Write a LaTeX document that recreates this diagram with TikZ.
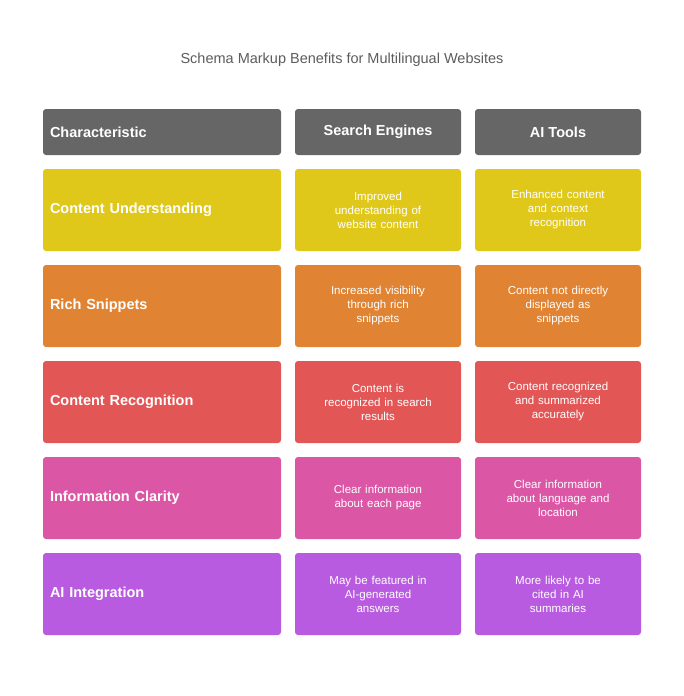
\documentclass[tikz,border=0pt]{standalone}
\usepackage{fontspec}
\setmainfont{Liberation Sans}
\definecolor{hdr}{HTML}{666666}
\definecolor{cy}{HTML}{E0C81B}
\definecolor{co}{HTML}{E08433}
\definecolor{cr}{HTML}{E35656}
\definecolor{cp}{HTML}{DC56A6}
\definecolor{cv}{HTML}{B95BE0}
\begin{document}
\begin{tikzpicture}[x=1pt,y=-1pt,
  box/.style={rounded corners=3pt, draw=none, text=white, inner sep=0pt},
  first/.style={box, minimum width=238pt, font=\fontsize{14.5}{17}\selectfont\bfseries, align=left, text width=224pt},
  other/.style={box, minimum width=166pt, font=\fontsize{11.5}{14}\selectfont, align=center, text width=150pt},
  head/.style={minimum height=46pt},
  row/.style={minimum height=82pt}]
\useasboundingbox (0,0) rectangle (684,696);
\node (title) at (342,60) {\fontsize{14.5}{17}\selectfont\color{hdr!90!black}Schema Markup Benefits for Multilingual Websites};
\node[first,head,fill=hdr] (h1) at (162,132) {Characteristic};
\node[box,head,minimum width=166pt,fill=hdr,font=\fontsize{14.5}{17}\selectfont\bfseries] (h2) at (378,132) {Search Engines};
\node[box,head,minimum width=166pt,fill=hdr,font=\fontsize{14.5}{17}\selectfont\bfseries] (h3) at (558,132) {AI Tools};
\foreach \y/\c/\a/\b/\d [count=\i] in {
 210/cy/Content Understanding/{Improved\\understanding of\\website content}/{Enhanced content\\and context\\recognition},
 306/co/Rich Snippets/{Increased visibility\\through rich\\snippets}/{Content not directly\\displayed as\\snippets},
 402/cr/Content Recognition/{Content is\\recognized in search\\results}/{Content recognized\\and summarized\\accurately},
 498/cp/Information Clarity/{Clear information\\about each page}/{Clear information\\about language and\\location},
 594/cv/AI Integration/{May be featured in\\AI-generated\\answers}/{More likely to be\\cited in AI\\summaries}}{
 \node[first,row,fill=\c] (a\i) at (162,\y) {\a};
 \node[other,row,fill=\c] (b\i) at (378,\y) {\b};
 \node[other,row,fill=\c] (c\i) at (558,\y) {\d};
}
\end{tikzpicture}
\end{document}
